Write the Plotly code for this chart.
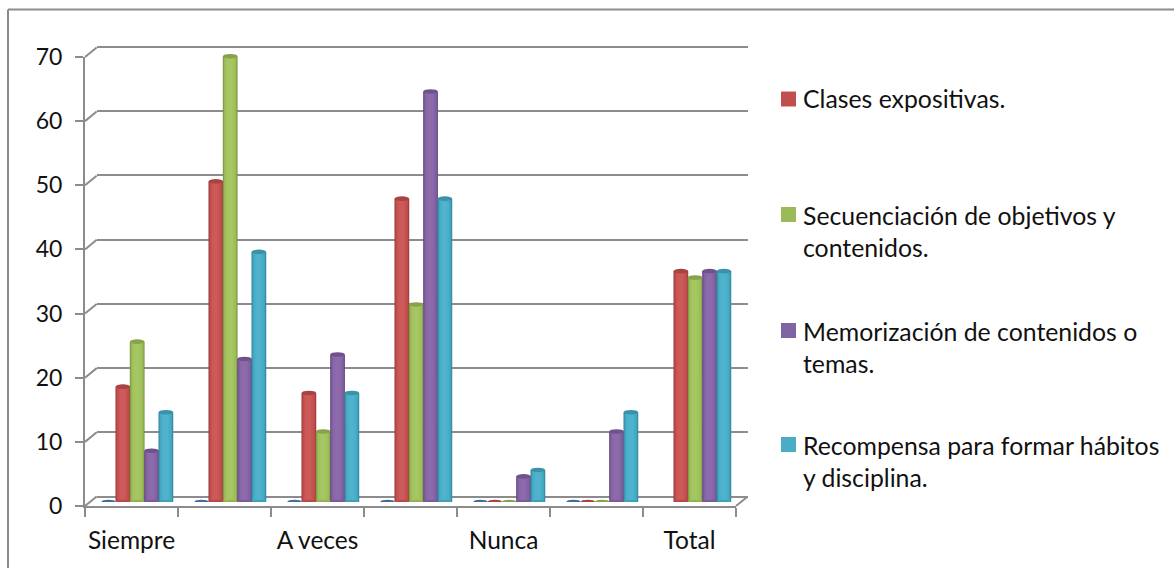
import numpy as np
import plotly.graph_objects as go

W, H = 1174, 568

categories = ["Siempre", " ", "A veces", "  ", "Nunca", "   ", "Total"]
series_names = [
    "Serie 1",
    "Clases expositivas.",
    "Secuenciación de objetivos y<br>contenidos.",
    "Memorización de contenidos o<br>temas.",
    "Recompensa para formar hábitos<br>y disciplina.",
]
blue_values = [0, 0, 0, 0, 0, 0, None]
red_values = [18, 50, 17, 47.3, 0, 0, 36]
green_values = [25, 69.5, 11, 30.8, 0, 0, 35]
purple_values = [8, 22.3, 23, 64, 4, 11, 36]
teal_values = [14, 39, 17, 47.3, 5, 14, 36]
y_ticks = [0, 10, 20, 30, 40, 50, 60, 70]

all_series = [blue_values, red_values, green_values, purple_values, teal_values]
base_colors = ["#4f81bd", "#c9504f", "#a1c25a", "#8562a6", "#45aec9"]
legend_colors = ["#c0504d", "#9bbb59", "#8064a2", "#4bacc6"]
legend_text_y = [99, 231, 347, 461]
FONT = "Lato"
GREY = "#8c8c8c"
TEXT = "#111111"

FRONT_L, FRONT_R, FRONT_T, FRONT_B = 85, 736, 57, 506
DEPTH_X, DEPTH_Y = 11.7, 9.6


def mix(hex_color, other, t):
    a = np.array([int(hex_color[i:i + 2], 16) for i in (1, 3, 5)], float)
    b = np.array([int(other[i:i + 2], 16) for i in (1, 3, 5)], float)
    c = a * (1 - t) + b * t
    return "rgb(%d,%d,%d)" % tuple(c)


def dom_x(a, b):
    return [a / W, b / W]


def dom_y(top, bottom):
    return [1 - bottom / H, 1 - top / H]


def connector(x_px, y_px):
    return dict(type="line", xref="paper", yref="paper",
                x0=x_px / W, x1=(x_px + DEPTH_X) / W,
                y0=1 - y_px / H, y1=1 - (y_px - DEPTH_Y) / H,
                line=dict(color=GREY, width=2), layer="below")


fig = go.Figure()
fig.add_trace(go.Scatter(x=[None], y=[None], xaxis="x", yaxis="y", showlegend=False, hoverinfo="skip"))

slot = 14.35 / 93.1
layers = [(1.03, 0.0, "#000000", 0.24), (0.92, 0.0, "#000000", 0.10), (0.80, 0.0, "#000000", 0.02),
          (0.60, -0.02, "#ffffff", 0.03), (0.36, -0.03, "#ffffff", 0.06)]
shapes = []
x_index = list(range(len(categories)))
for s, vals in enumerate(all_series):
    col = base_colors[s]
    center_off = (s - 2) * slot
    for frac, shift, other, t in layers:
        w = slot * frac
        fig.add_trace(go.Bar(
            x=x_index, y=vals, xaxis="x2", yaxis="y2", width=w,
            offset=center_off + shift * slot - w / 2,
            marker=dict(color=mix(col, other, t), line=dict(width=0)),
            showlegend=False, hoverinfo="skip",
        ))
    for x, v in zip(x_index, vals):
        if v is None:
            continue
        cx = x + center_off
        if v > 0:
            shapes.append(dict(type="circle", xref="x2", yref="y2", xsizemode="pixel", ysizemode="pixel",
                               xanchor=cx, yanchor=0, x0=-7.2, x1=7.2, y0=-2.2, y1=2.2,
                               fillcolor=mix(col, "#000000", 0.08), line=dict(width=0)))
        shapes.append(dict(type="circle", xref="x2", yref="y2", xsizemode="pixel", ysizemode="pixel",
                           xanchor=cx, yanchor=v, x0=-7.2, x1=7.2, y0=-2.3, y1=2.3,
                           fillcolor=mix(col, "#000000", 0.16), line=dict(width=0)))
fig.add_trace(go.Scatter(x=[None], y=[None], xaxis="x3", yaxis="y3", showlegend=False, hoverinfo="skip"))

unit_px = (FRONT_B - FRONT_T) / y_ticks[-1]
for t in y_ticks:
    shapes.append(connector(FRONT_L, FRONT_B - t * unit_px))
shapes.append(connector(FRONT_R, FRONT_B))

shapes.append(dict(type="line", xref="paper", yref="paper", x0=8 / W, x1=1, y0=1 - 9.5 / H, y1=1 - 9.5 / H,
                   line=dict(color=GREY, width=2)))
shapes.append(dict(type="line", xref="paper", yref="paper", x0=8 / W, x1=8 / W, y0=1 - 9.5 / H, y1=0,
                   line=dict(color=GREY, width=2)))

annotations = []
legend_square = 15
for name, col, yc in zip(series_names[1:], legend_colors, legend_text_y):
    two_line = "<br>" in name
    mark_y = yc - 16.5 if two_line else yc
    shapes.append(dict(type="rect", xref="paper", yref="paper", x0=781 / W, x1=(781 + legend_square) / W,
                       y0=1 - (mark_y + legend_square / 2) / H, y1=1 - (mark_y - legend_square / 2) / H,
                       fillcolor=col, line=dict(width=0)))
    annotations.append(dict(xref="paper", yref="paper", x=803 / W, y=1 - yc / H, xanchor="left", yanchor="middle",
                            text=name, showarrow=False, align="left", xshift=-2,
                            font=dict(family=FONT, size=24.8, color=TEXT)))

fig.update_layout(
    width=W, height=H, margin=dict(l=0, r=0, t=0, b=0, pad=0), autosize=False,
    paper_bgcolor="white", plot_bgcolor="rgba(0,0,0,0)", barmode="overlay", showlegend=False,
    font=dict(family=FONT, size=22, color=TEXT),
    shapes=shapes, annotations=annotations,
    xaxis=dict(domain=dom_x(96.7, 748), range=[-0.5, 6.5], visible=False, anchor="y", fixedrange=True, automargin=False),
    yaxis=dict(domain=dom_y(47 - unit_px, 496.6 + unit_px), range=[-1, 71], tickvals=y_ticks, showgrid=True,
               gridcolor=GREY, gridwidth=2, showticklabels=False, ticks="", zeroline=False, showline=False,
               anchor="x", fixedrange=True, automargin=False),
    xaxis2=dict(domain=dom_x(90.7, 741.7), range=[-0.5, 6.5], visible=False, anchor="y2", fixedrange=True, automargin=False),
    yaxis2=dict(domain=dom_y(53, 502), range=[0, 70], visible=False, anchor="x2", fixedrange=True, automargin=False),
    xaxis3=dict(domain=dom_x(FRONT_L, FRONT_R), type="category", categoryorder="array", categoryarray=categories,
                range=[-0.5, 6.5], tickmode="array", tickvals=categories, ticktext=categories, tickson="boundaries",
                ticks="outside", ticklen=9, tickwidth=2, tickcolor=GREY, showline=True, linecolor=GREY, linewidth=2,
                showgrid=False, zeroline=False, anchor="y3", tickfont=dict(family=FONT, size=24.5, color=TEXT),
                tickangle=0, ticklabelstandoff=12, fixedrange=True, automargin=False),
    yaxis3=dict(domain=dom_y(FRONT_T, FRONT_B), range=[0, 70], tickvals=y_ticks, ticks="outside", ticklen=8, tickwidth=2,
                tickcolor=GREY, showline=True, linecolor=GREY, linewidth=2, showgrid=False, zeroline=False,
                anchor="x3", tickfont=dict(family=FONT, size=23, color=TEXT), ticklabelstandoff=8, fixedrange=True,
                automargin=False),
)
fig.write_html("out.html", config=dict(displayModeBar=False), post_script="document.body.style.margin='0';")
